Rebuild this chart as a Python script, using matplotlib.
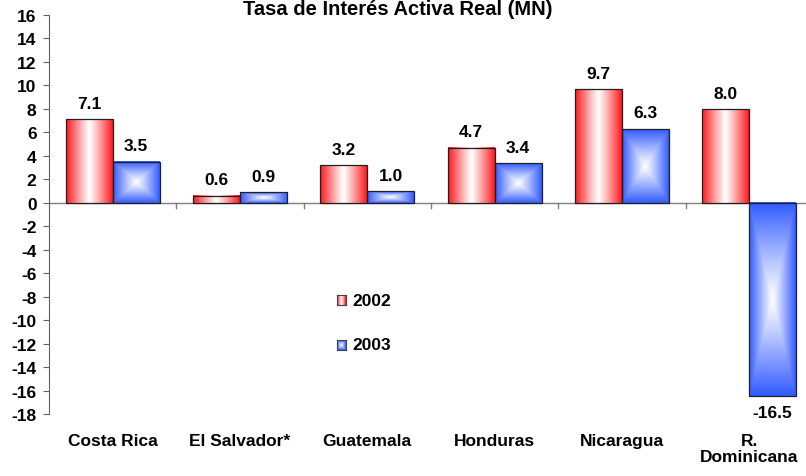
import numpy as np
import matplotlib
matplotlib.use("Agg")
import matplotlib.pyplot as plt
from matplotlib import font_manager

plt.rcParams["font.family"] = ["Liberation Sans", "DejaVu Sans"]
plt.rcParams["font.weight"] = "bold"
plt.rcParams["axes.unicode_minus"] = False

# data
countries = ["Costa Rica", "El Salvador*", "Guatemala", "Honduras", "Nicaragua", "R.\nDominicana"]
y2002 = [7.1, 0.6, 3.2, 4.7, 9.7, 8.0]
y2003 = [3.5, 0.9, 1.0, 3.4, 6.3, -16.5]
yticks = list(range(-18, 17, 2))

RED = np.array([1.0, 0.10, 0.12])
BLUE = np.array([0.20, 0.36, 1.0])
WHITE = np.array([1.0, 1.0, 1.0])


def side_grad(col, nx=60, ny=2):
    # edge colour at both sides, white in the middle (2002 bars)
    u = np.abs(np.linspace(-1, 1, nx))
    t = np.tile(u, (ny, 1))[..., None] ** 1.1
    return WHITE * (1 - t) + col * t


def box_grad(col, nx=80, ny=80):
    # rectangular gradient from the centre (2003 bars)
    u = np.abs(np.linspace(-1, 1, nx))[None, :]
    v = np.abs(np.linspace(-1, 1, ny))[:, None]
    t = np.maximum(u, v)[..., None] ** 1.1
    return WHITE * (1 - t) + col * t


W, H = 806, 477
fig = plt.figure(figsize=(W / 100, H / 100), dpi=100)
cat_px = 127.3
ax = fig.add_axes([49 / W, 62 / H, 757 / W, 399 / H])

bw = 47 / cat_px
for i, (a, b) in enumerate(zip(y2002, y2003)):
    for x0, val, img in [(i - bw, a, side_grad(RED)), (i, b, box_grad(BLUE))]:
        lo, hi = min(0, val), max(0, val)
        ax.imshow(img, extent=(x0, x0 + bw, lo, hi), aspect="auto",
                  interpolation="bilinear", zorder=2)
        ax.add_patch(plt.Rectangle((x0, lo), bw, hi - lo, fill=False,
                                   ec="#202020", lw=0.9, zorder=3))
        off = 6 if val >= 0 else -6
        ax.annotate(f"{val:.1f}", (x0 + bw / 2, val), xytext=(0, off),
                    textcoords="offset points", ha="center",
                    va="bottom" if val >= 0 else "top",
                    fontsize=12.5, fontweight="bold")

ax.set_xlim(-0.5, -0.5 + 757 / cat_px)
ax.set_ylim(-18, 16)

# zero line with category separator ticks
ax.axhline(0, color="#808080", lw=1, zorder=1)
for k in range(len(countries)):
    ax.plot([k + 0.5, k + 0.5], [0, -0.42], color="#808080", lw=1,
            clip_on=False, zorder=1)

for s in ["top", "right", "bottom"]:
    ax.spines[s].set_visible(False)
ax.spines["left"].set_color("#606060")
ax.set_yticks(yticks)
ax.tick_params(axis="y", length=4, color="#606060", pad=5, labelsize=12.5)
ax.set_xticks(range(len(countries)))
ax.set_xticklabels(countries, fontsize=12.5, fontweight="bold", va="top",
                   linespacing=1.05)
ax.tick_params(axis="x", length=0, pad=14)
for lab in ax.get_yticklabels():
    lab.set_fontweight("bold")

# title: narrow face if it is there, the page cuts off its top
names = {f.name for f in font_manager.fontManager.ttflist}
if "Liberation Sans Narrow" in names:
    tfam, tsize = "Liberation Sans Narrow", 17.5
else:
    tfam, tsize = "Liberation Sans", 14.5
fig.text(398 / W, 1 - 15 / H, "Tasa de Interés Activa Real (MN)", ha="center",
         va="baseline", fontsize=tsize, fontweight="bold", family=tfam)

# legend
for (yy, img, lab) in [(296, side_grad(RED, 20, 2), "2002"),
                       (341, box_grad(BLUE, 20, 20), "2003")]:
    sw = fig.add_axes([337 / W, 1 - (yy + 10) / H, 9 / W, 10 / H])
    sw.imshow(img, aspect="auto", interpolation="bilinear")
    sw.set_xticks([]); sw.set_yticks([])
    for sp in sw.spines.values():
        sp.set_color("#404040"); sp.set_linewidth(0.8)
    fig.text(352 / W, 1 - (yy + 5) / H, lab, ha="left", va="center",
             fontsize=12.5, fontweight="bold")

fig.savefig("out.png", dpi=100)
